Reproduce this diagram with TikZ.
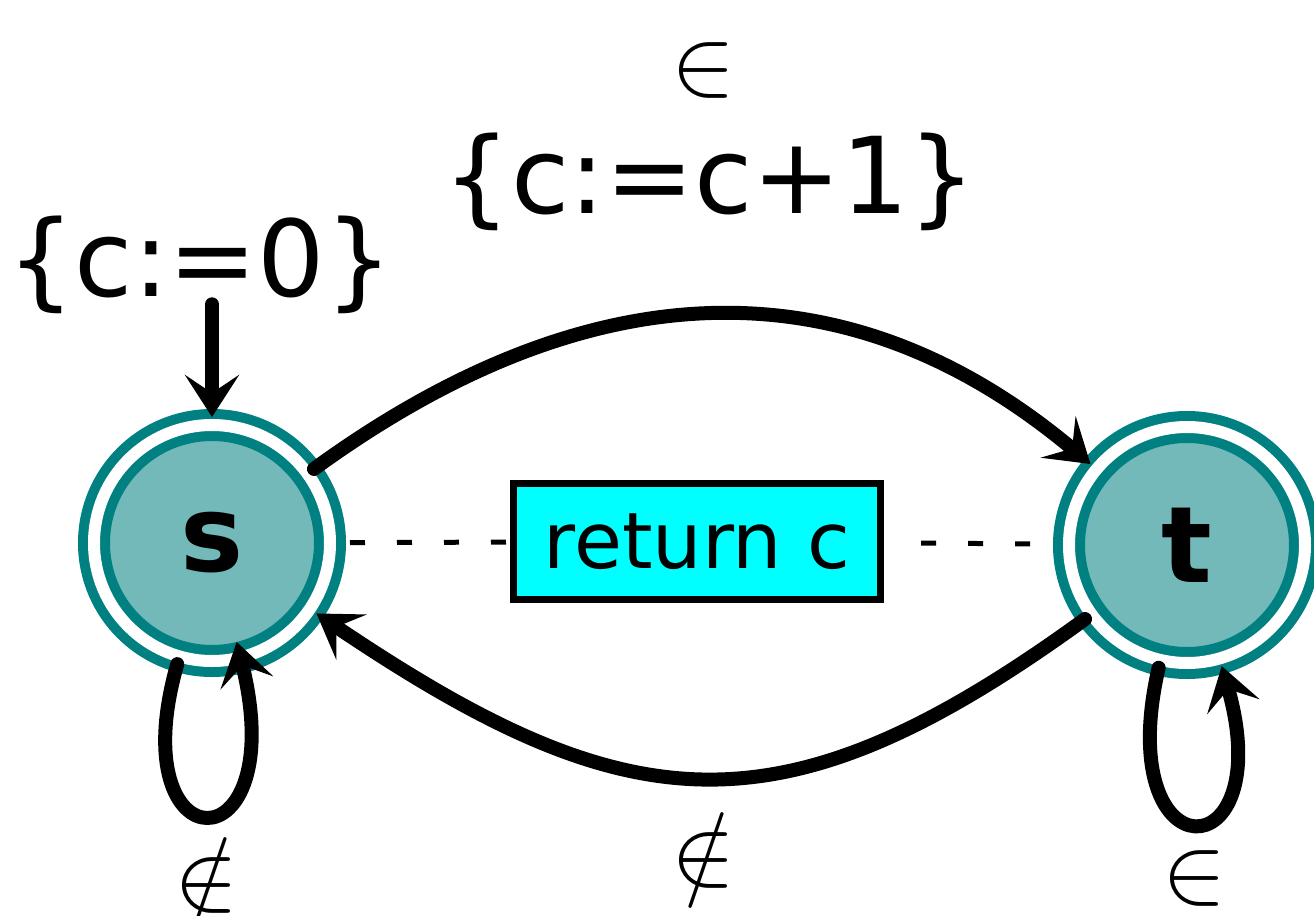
\documentclass[tikz,border=0pt]{standalone}
\usepackage{fontspec}
\setmainfont{DejaVu Sans}
\usetikzlibrary{arrows.meta, positioning}
\definecolor{stateteal}{RGB}{0,128,128}
\definecolor{statefill}{RGB}{115,185,185}
\definecolor{boxcyan}{RGB}{0,255,255}
\newcommand{\bigsym}[1]{\scalebox{1.93}{$#1$}}

\begin{document}
\begin{tikzpicture}[x=0.5pt, y=0.5pt, >={Stealth[length=21pt, width=27pt, inset=9pt]},
    state/.style={circle, draw=stateteal, line width=5pt, double=white, double distance=6pt,
      fill=statefill, minimum size=118pt, inner sep=0pt, outer sep=4pt,
      font=\fontsize{53}{60}\selectfont\bfseries},
    edge/.style={->, line width=7pt, line cap=round},
    guard/.style={draw, dash pattern=on 7.5pt off 16pt, line width=2.5pt},
    lbl/.style={font=\fontsize{53}{60}\selectfont, inner sep=0pt},
    sym/.style={font=\Huge, inner sep=0pt}]
  \useasboundingbox (0,0) rectangle (1314,-916);
  % states
  \node[state] (s) at (212,-543) {s};
  \node[state] (t) at (1187,-545) {t};
  \node[draw, line width=3.5pt, fill=boxcyan, minimum width=183.5pt, minimum height=58pt,
    inner sep=0pt, font=\fontsize{39}{45}\selectfont] (ret) at (697,-541.5) {return c};
  % labels
  \node[lbl] (init) at (200,-265) {\{c:=0\}};
  \node[lbl] (inc) at (710,-182) {\{c:=c+1\}};
  \node[sym] (in1) at (704,-70) {\bigsym{\in}};
  \node[sym] (nin1) at (704,-850) {\bigsym{\notin}};
  \node[sym] (nin2) at (207,-875) {\bigsym{\notin}};
  \node[sym] (in2) at (1195,-878) {\bigsym{\in}};
  % guard lines
  \draw[guard, shorten <=6pt] (s) -- (ret);
  \draw[guard, shorten <=15.5pt, shorten >=3pt] (t) -- (ret);
  % transitions
  \draw[edge] ([yshift=5pt]init.south -| s) -- (s);
  \draw[edge] (s) to[out=36, in=140, looseness=1.08] (t);
  \draw[edge] (t) to[out=-144, in=-34, looseness=1.25] (s);
  \draw[edge, shorten >=-12pt] (s) to[out=-106, in=-76, distance=106pt] (s);
  \draw[edge] (t) to[out=-103, in=-74, distance=108pt] (t);
\end{tikzpicture}
\end{document}
